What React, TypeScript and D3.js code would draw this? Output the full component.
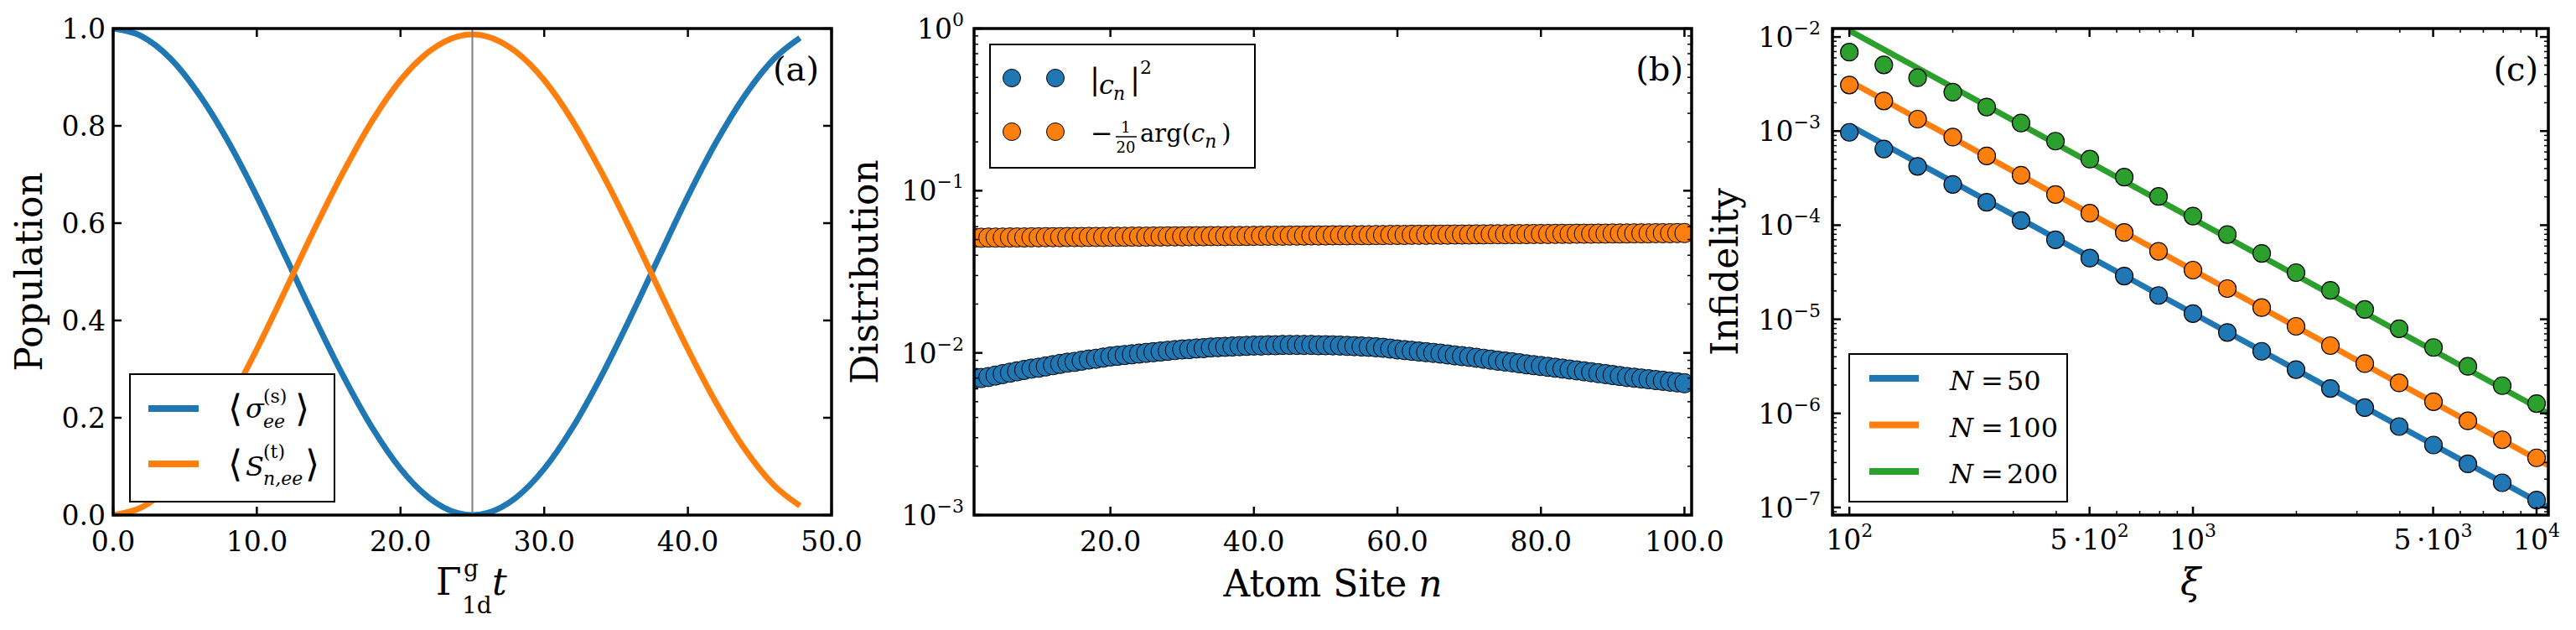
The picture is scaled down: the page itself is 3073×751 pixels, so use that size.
import React from 'react';
import * as d3 from 'd3';

// ---------------- data ----------------
// Panel (a): populations vs Γ t
const timeA = [0, 2, 4, 6, 8, 10, 12, 14, 16, 18, 20, 22, 24, 25, 26, 28, 30, 32, 34, 36, 38, 40, 42, 44, 46, 47.8];
const sigmaEE = [1.0, 0.984, 0.938, 0.864, 0.768, 0.655, 0.531, 0.406, 0.287, 0.181, 0.095, 0.035, 0.004, 0.0, 0.004, 0.035, 0.095, 0.181, 0.287, 0.406, 0.531, 0.655, 0.768, 0.864, 0.938, 0.981];
const sNEE = [0.0, 0.016, 0.061, 0.134, 0.229, 0.341, 0.463, 0.587, 0.704, 0.809, 0.894, 0.953, 0.984, 0.988, 0.984, 0.953, 0.894, 0.809, 0.704, 0.587, 0.463, 0.341, 0.229, 0.134, 0.061, 0.019];
const markerTime = 25;
const aXTicks = [0, 10, 20, 30, 40, 50];
const aYTicks = [0, 0.2, 0.4, 0.6, 0.8, 1.0];

// Panel (b): distribution over atom sites (values x 1e-4)
const cnSqE4 = [
  69, 70, 71, 72.5, 74, 75.5, 77, 78.5, 80, 81,
  82.5, 84, 85.5, 87, 88, 89.5, 91, 92, 93.5, 95,
  96, 97, 98, 99, 100, 101, 102, 103, 104, 105,
  105.5, 106.5, 107, 108, 108.5, 109, 109.5, 110, 110.5, 111,
  111, 111.5, 111.5, 112, 112, 112, 112, 112, 111.5, 111.5,
  111.3, 111, 110.5, 110, 109.5, 109, 108.3, 107.5, 106.3, 105,
  104, 103, 102, 101, 100, 99, 97.8, 96.5, 95.5, 94.5,
  93.3, 92, 90.8, 89.5, 88.5, 87.5, 86.3, 85, 84, 83,
  82, 81, 80, 79, 78, 77, 76, 75, 74, 73,
  72, 71, 70.3, 69.5, 68.8, 68, 67.3, 66.5, 65.8, 65,
];
const argCnE4 = [
  513, 513, 514, 514, 514, 515, 515, 515, 516, 516,
  517, 517, 517, 518, 518, 518, 519, 519, 519, 520,
  520, 520, 521, 521, 521, 522, 522, 523, 523, 523,
  524, 524, 524, 525, 525, 525, 526, 526, 526, 527,
  527, 528, 528, 528, 529, 529, 529, 530, 530, 530,
  531, 531, 531, 532, 532, 532, 533, 533, 534, 534,
  534, 535, 535, 535, 536, 536, 536, 537, 537, 537,
  538, 538, 539, 539, 539, 540, 540, 540, 541, 541,
  541, 542, 542, 542, 543, 543, 543, 544, 544, 545,
  545, 545, 546, 546, 546, 547, 547, 547, 548, 548,
];
const bXTicks = [20, 40, 60, 80, 100];
const bYExps = [-3, -2, -1, 0];

// Panel (c): infidelity vs ξ
const xiValues = [100, 126, 158, 200, 251, 316, 398, 501, 631, 794, 1000, 1259, 1585, 1995, 2512, 3162, 3981, 5012, 6310, 7943, 10000];
const infN50 = [9.7e-4, 6.46e-4, 4.22e-4, 2.71e-4, 1.75e-4, 1.12e-4, 7.0e-5, 4.47e-5, 2.88e-5, 1.79e-5, 1.15e-5, 7.24e-6, 4.57e-6, 2.92e-6, 1.84e-6, 1.15e-6, 7.24e-7, 4.61e-7, 2.91e-7, 1.83e-7, 1.2e-7];
const infN100 = [3.09e-3, 2.09e-3, 1.34e-3, 8.63e-4, 5.45e-4, 3.4e-4, 2.12e-4, 1.34e-4, 8.36e-5, 5.27e-5, 3.33e-5, 2.12e-5, 1.33e-5, 8.41e-6, 5.25e-6, 3.38e-6, 2.11e-6, 1.33e-6, 8.32e-7, 5.24e-7, 3.37e-7];
const infN200 = [6.9e-3, 5.05e-3, 3.69e-3, 2.59e-3, 1.8e-3, 1.22e-3, 7.82e-4, 5.04e-4, 3.24e-4, 2.02e-4, 1.25e-4, 7.96e-5, 5.01e-5, 3.13e-5, 2.03e-5, 1.27e-5, 7.94e-6, 5.01e-6, 3.16e-6, 1.97e-6, 1.27e-6];
const fitXi = [100, 10800];
const fitN50 = [1.15e-3, 1.0e-7];
const fitN100 = [3.4e-3, 2.8e-7];
const fitN200 = [1.17e-2, 1.0e-6];
const nLabels = ['50', '100', '200'];
const cXMajor = [
  { v: 100, pre: '', exp: '2' },
  { v: 500, pre: '5\u2009·', exp: '2' },
  { v: 1000, pre: '', exp: '3' },
  { v: 5000, pre: '5\u2009·', exp: '3' },
  { v: 10000, pre: '', exp: '4' },
];
const cYExps = [-7, -6, -5, -4, -3, -2];

// ---------------- layout / style ----------------
const W = 3073, H = 751;
const TOP = 34, BOTTOM = 614;
const PA = { l: 135, r: 992 };
const PB = { l: 1162, r: 2018 };
const PC = { l: 2186, r: 3040 };
const BLUE = '#1f77b4', ORANGE = '#ff7f0e', GREEN = '#2ca02c';
const FONT = 'DejaVu Serif, serif';
const SYM = 'DejaVu Sans, sans-serif';
const TICK_FS = 33;
const SUP_FS = 22;
const LABEL_FS = 44;
const LEG_FS = 32;

const xA = d3.scaleLinear().domain([0, 50]).range([PA.l, PA.r]);
const yA = d3.scaleLinear().domain([0, 1]).range([BOTTOM, TOP]);
const xB = d3.scaleLinear().domain([1, 101]).range([PB.l, PB.r]);
const yB = d3.scaleLog().domain([1e-3, 1]).range([BOTTOM, TOP]);
const xC = d3.scaleLog().domain([89.3, 10820]).range([PC.l, PC.r]);
const yC = d3.scaleLog().domain([8.3e-8, 1.23e-2]).range([BOTTOM, TOP]);

function logMinor(scale: any): number[] {
  const [a, b] = scale.domain();
  const out: number[] = [];
  for (let e = Math.floor(Math.log10(a)) - 1; e <= Math.ceil(Math.log10(b)); e++) {
    for (let m = 2; m <= 9; m++) {
      const v = m * Math.pow(10, e);
      if (v >= a && v <= b) out.push(v);
    }
  }
  return out;
}

function Frame({ l, r, xMajor, xMinor = [], yMajor, yMinor = [] }: any) {
  const ML = 10, mL = 5;
  const lines: any[] = [];
  xMajor.forEach((x: number, i: number) => {
    lines.push(<line key={'xb' + i} x1={x} x2={x} y1={BOTTOM} y2={BOTTOM - ML} stroke="#000" strokeWidth={2.5} />);
    lines.push(<line key={'xt' + i} x1={x} x2={x} y1={TOP} y2={TOP + ML} stroke="#000" strokeWidth={2.5} />);
  });
  xMinor.forEach((x: number, i: number) => {
    lines.push(<line key={'xmb' + i} x1={x} x2={x} y1={BOTTOM} y2={BOTTOM - mL} stroke="#000" strokeWidth={1.5} />);
    lines.push(<line key={'xmt' + i} x1={x} x2={x} y1={TOP} y2={TOP + mL} stroke="#000" strokeWidth={1.5} />);
  });
  yMajor.forEach((y: number, i: number) => {
    lines.push(<line key={'yl' + i} x1={l} x2={l + ML} y1={y} y2={y} stroke="#000" strokeWidth={2.5} />);
    lines.push(<line key={'yr' + i} x1={r} x2={r - ML} y1={y} y2={y} stroke="#000" strokeWidth={2.5} />);
  });
  yMinor.forEach((y: number, i: number) => {
    lines.push(<line key={'yml' + i} x1={l} x2={l + mL} y1={y} y2={y} stroke="#000" strokeWidth={1.5} />);
    lines.push(<line key={'ymr' + i} x1={r} x2={r - mL} y1={y} y2={y} stroke="#000" strokeWidth={1.5} />);
  });
  return (
    <g>
      {lines}
      <rect x={l} y={TOP} width={r - l} height={BOTTOM - TOP} fill="none" stroke="#000" strokeWidth={3.5} />
    </g>
  );
}

function PowLabel({ x, y, pre = '', exp, anchor }: any) {
  return (
    <text x={x} y={y} textAnchor={anchor} fontFamily={FONT} fontSize={TICK_FS}>
      {pre}10<tspan dy={-15} fontSize={SUP_FS}>{exp}</tspan>
    </text>
  );
}

function YLabel({ x, text }: any) {
  return (
    <text transform={`translate(${x},${(TOP + BOTTOM) / 2}) rotate(-90)`} textAnchor="middle" fontFamily={FONT} fontSize={LABEL_FS}>
      {text}
    </text>
  );
}

function PanelTag({ x, text }: any) {
  return (
    <text x={x} y={96} textAnchor="end" fontFamily={FONT} fontSize={40}>{text}</text>
  );
}

export default function App() {
  const lineA = d3.line<number>().x((_, i) => xA(timeA[i])).y((d) => yA(d)).curve(d3.curveMonotoneX);
  const lineC = d3.line<number>().x((_, i) => xC(fitXi[i])).y((d) => yC(d));
  const cSeries = [
    { vals: infN50, fit: fitN50, color: BLUE },
    { vals: infN100, fit: fitN100, color: ORANGE },
    { vals: infN200, fit: fitN200, color: GREEN },
  ];
  const sites = cnSqE4.map((_, i) => i + 1);

  return (
    <svg width={W} height={H} style={{ position: 'absolute', left: 0, top: 0, background: '#fff' }} fontFamily={FONT}>
      <defs>
        <clipPath id="clipA"><rect x={PA.l} y={TOP} width={PA.r - PA.l} height={BOTTOM - TOP} /></clipPath>
        <clipPath id="clipB"><rect x={PB.l} y={TOP} width={PB.r - PB.l} height={BOTTOM - TOP} /></clipPath>
        <clipPath id="clipC"><rect x={PC.l} y={TOP} width={PC.r - PC.l} height={BOTTOM - TOP} /></clipPath>
      </defs>
      <rect x={0} y={0} width={W} height={H} fill="#fff" />

      {/* ---------- Panel (a) ---------- */}
      <g clipPath="url(#clipA)">
        <path d={lineA(sigmaEE) || ''} fill="none" stroke={BLUE} strokeWidth={7} />
        <path d={lineA(sNEE) || ''} fill="none" stroke={ORANGE} strokeWidth={7} />
        <line x1={xA(markerTime)} x2={xA(markerTime)} y1={TOP} y2={BOTTOM} stroke="#808080" strokeWidth={2} />
      </g>
      <Frame l={PA.l} r={PA.r} xMajor={aXTicks.map((t) => xA(t))} yMajor={aYTicks.map((v) => yA(v))} />
      {aXTicks.map((t) => (
        <text key={'ax' + t} x={xA(t)} y={BOTTOM + 43} textAnchor="middle" fontFamily={FONT} fontSize={TICK_FS}>{t.toFixed(1)}</text>
      ))}
      {aYTicks.map((v) => (
        <text key={'ay' + v} x={PA.l - 9} y={yA(v) + 12} textAnchor="end" fontFamily={FONT} fontSize={TICK_FS}>{v.toFixed(1)}</text>
      ))}
      <YLabel x={50} text="Population" />
      <g fontFamily={FONT}>
        <text x={520} y={709} fontSize={LABEL_FS}>Γ</text>
        <text x={553} y={687} fontSize={28}>g</text>
        <text x={551} y={731} fontSize={28}>1d</text>
        <text x={587} y={709} fontSize={LABEL_FS} fontStyle="italic">t</text>
      </g>
      <PanelTag x={977} text="(a)" />
      {/* legend a */}
      <g>
        <rect x={155} y={446} width={244} height={152} fill="#fff" stroke="#000" strokeWidth={2} />
        <line x1={177} x2={237} y1={487} y2={487} stroke={BLUE} strokeWidth={8} />
        <line x1={177} x2={237} y1={553} y2={553} stroke={ORANGE} strokeWidth={8} />
        <g fontFamily={FONT}>
          <text x={272} y={502} fontSize={44} fontFamily={SYM} fontWeight={200}>⟨</text>
          <text x={293} y={498} fontSize={LEG_FS} fontStyle="italic">σ</text>
          <text x={314} y={480} fontSize={SUP_FS}>(s)</text>
          <text x={314} y={510} fontSize={SUP_FS} fontStyle="italic">ee</text>
          <text x={352} y={502} fontSize={44} fontFamily={SYM} fontWeight={200}>⟩</text>

          <text x={272} y={568} fontSize={44} fontFamily={SYM} fontWeight={200}>⟨</text>
          <text x={293} y={567} fontSize={LEG_FS} fontStyle="italic">S</text>
          <text x={314} y={546} fontSize={SUP_FS}>(t)</text>
          <text x={314} y={578} fontSize={SUP_FS} fontStyle="italic">n,ee</text>
          <text x={364} y={568} fontSize={44} fontFamily={SYM} fontWeight={200}>⟩</text>
        </g>
      </g>

      {/* ---------- Panel (b) ---------- */}
      <g clipPath="url(#clipB)">
        {cnSqE4.map((v, i) => (
          <circle key={'bb' + i} cx={xB(sites[i])} cy={yB(v * 1e-4)} r={11.5} fill={BLUE} stroke="#000" strokeWidth={1} />
        ))}
        {argCnE4.map((v, i) => (
          <circle key={'bo' + i} cx={xB(sites[i])} cy={yB(v * 1e-4)} r={11.5} fill={ORANGE} stroke="#000" strokeWidth={1} />
        ))}
      </g>
      <Frame
        l={PB.l}
        r={PB.r}
        xMajor={bXTicks.map((t) => xB(t))}
        yMajor={bYExps.map((e) => yB(Math.pow(10, e)))}
        yMinor={logMinor(yB).map((v) => yB(v))}
      />
      {bXTicks.map((t) => (
        <text key={'bx' + t} x={xB(t)} y={BOTTOM + 43} textAnchor="middle" fontFamily={FONT} fontSize={TICK_FS}>{t.toFixed(1)}</text>
      ))}
      {bYExps.map((e) => (
        <PowLabel key={'by' + e} x={PB.l - 12} y={yB(Math.pow(10, e)) + 12} anchor="end" exp={e < 0 ? '−' + -e : String(e)} />
      ))}
      <YLabel x={1047} text="Distribution" />
      <text x={(PB.l + PB.r) / 2} y={711} textAnchor="middle" fontFamily={FONT} fontSize={LABEL_FS}>
        Atom Site <tspan fontStyle="italic">n</tspan>
      </text>
      <PanelTag x={2008} text="(b)" />
      {/* legend b */}
      <g>
        <rect x={1181} y={53} width={316} height={147} fill="#fff" stroke="#000" strokeWidth={2} />
        <circle cx={1207} cy={93} r={10.5} fill={BLUE} stroke="#000" strokeWidth={1} />
        <circle cx={1259} cy={93} r={10.5} fill={BLUE} stroke="#000" strokeWidth={1} />
        <circle cx={1207} cy={157} r={10.5} fill={ORANGE} stroke="#000" strokeWidth={1} />
        <circle cx={1259} cy={157} r={10.5} fill={ORANGE} stroke="#000" strokeWidth={1} />
        <g fontFamily={FONT}>
          <text x={1300} y={107} fontSize={36}>|</text>
          <text x={1311} y={112} fontSize={LEG_FS} fontStyle="italic">c</text>
          <text x={1328} y={119} fontSize={SUP_FS} fontStyle="italic">n</text>
          <text x={1348} y={107} fontSize={36}>|</text>
          <text x={1360} y={88} fontSize={SUP_FS}>2</text>

          <text x={1301} y={170} fontSize={LEG_FS}>−</text>
          <text x={1343} y={158} fontSize={18} textAnchor="middle">1</text>
          <line x1={1331} x2={1356} y1={163} y2={163} stroke="#000" strokeWidth={1.5} />
          <text x={1343} y={182} fontSize={18} textAnchor="middle">20</text>
          <text x={1360} y={169} fontSize={29}>
            arg(<tspan fontStyle="italic">c</tspan>
            <tspan dy={7} fontSize={SUP_FS} fontStyle="italic">n</tspan>
            <tspan dy={-7}>{'\u2009)'}</tspan>
          </text>
        </g>
      </g>

      {/* ---------- Panel (c) ---------- */}
      <g clipPath="url(#clipC)">
        {cSeries.map((s, k) => (
          <path key={'cl' + k} d={lineC(s.fit) || ''} fill="none" stroke={s.color} strokeWidth={7} />
        ))}
        {cSeries.map((s, k) =>
          s.vals.map((v, i) => (
            <circle key={'cp' + k + '-' + i} cx={xC(xiValues[i])} cy={yC(v)} r={10.5} fill={s.color} stroke="#000" strokeWidth={1.2} />
          ))
        )}
      </g>
      <Frame
        l={PC.l}
        r={PC.r}
        xMajor={cXMajor.map((t) => xC(t.v))}
        xMinor={logMinor(xC).filter((v) => v !== 500 && v !== 5000).map((v) => xC(v))}
        yMajor={cYExps.map((e) => yC(Math.pow(10, e)))}
        yMinor={logMinor(yC).map((v) => yC(v))}
      />
      {cXMajor.map((t) => (
        <PowLabel key={'cx' + t.v} x={xC(t.v)} y={BOTTOM + 41} anchor="middle" pre={t.pre} exp={t.exp} />
      ))}
      {cYExps.map((e) => (
        <PowLabel key={'cy' + e} x={PC.l - 14} y={yC(Math.pow(10, e)) + 12} anchor="end" exp={'−' + -e} />
      ))}
      <YLabel x={2073} text="Infidelity" />
      <text x={(PC.l + PC.r) / 2} y={709} textAnchor="middle" fontFamily={FONT} fontSize={LABEL_FS} fontStyle="italic">ξ</text>
      <PanelTag x={3028} text="(c)" />
      {/* legend c */}
      <g>
        <rect x={2206} y={422} width={260} height={176} fill="#fff" stroke="#000" strokeWidth={2} />
        {cSeries.map((s, k) => (
          <g key={'lc' + k}>
            <line x1={2230} x2={2289} y1={451 + k * 55.5} y2={451 + k * 55.5} stroke={s.color} strokeWidth={8} />
            <text y={465 + k * 55.5} fontFamily={FONT} fontSize={LEG_FS}>
              <tspan x={2326} fontStyle="italic">N</tspan>
              <tspan x={2363}>=</tspan>
              <tspan x={2394}>{nLabels[k]}</tspan>
            </text>
          </g>
        ))}
      </g>
    </svg>
  );
}
